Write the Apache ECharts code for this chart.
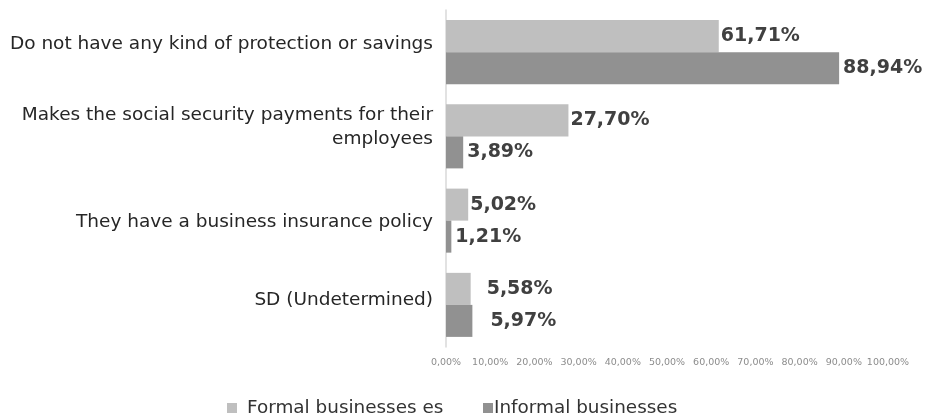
<!DOCTYPE html>
<html>
<head>
<meta charset="utf-8">
<script src="https://cdn.jsdelivr.net/npm/echarts@6/dist/echarts.min.js"></script>
<style>
  html, body { margin: 0; padding: 0; background: #ffffff; }
  #chart { width: 925px; height: 417px; }
</style>
</head>
<body>
<div id="chart"></div>
<script>
// Protection mechanisms by type of business (% of businesses)
const categories = [
  'Do not have any kind of protection or savings',
  'Makes the social security payments for their\nemployees',
  'They have a business insurance policy',
  'SD (Undetermined)'
];
const seriesNames = ['Formal businesses es', 'Informal businesses'];
const formalValues = [61.71, 27.70, 5.02, 5.58];
const informalValues = [88.94, 3.89, 1.21, 5.97];
const axisTicks = [0, 10, 20, 30, 40, 50, 60, 70, 80, 90, 100];

// extra horizontal push for the value labels of the last group
const labelPush = [0, 0, 0, 14];
// vertical nudge (px, positive = up) of each category name
const nameLift = [8, 9, -2, 5];

const FONT = 'DejaVu Sans';
const NAME_SIZE = 18.5;
const pct = v => v.toFixed(2).replace('.', ',') + '%';

function buildData(values) {
  return values.map((v, i) => ({
    value: v,
    label: { offset: [labelPush[i], 0] }
  }));
}

// one rich style per category, padded to carry its vertical nudge
const rich = {};
nameLift.forEach((lift, i) => {
  rich['c' + i] = {
    fontSize: NAME_SIZE,
    lineHeight: 24,
    color: '#262626',
    fontFamily: FONT,
    align: 'right',
    padding: lift >= 0 ? [0, 0, 2 * lift, 0] : [-2 * lift, 0, 0, 0]
  };
});

function nameFormatter(value, index) {
  return value
    .split('\n')
    .map(ln => '{c' + index + '|' + ln + '}')
    .join('\n');
}

const chart = echarts.init(document.getElementById('chart'), null, { renderer: 'canvas' });

chart.setOption({
  animation: false,
  backgroundColor: '#ffffff',
  textStyle: { fontFamily: FONT },
  grid: { left: 446, right: 37, top: 10, bottom: 70, containLabel: false },
  xAxis: {
    type: 'value',
    min: axisTicks[0],
    max: axisTicks[axisTicks.length - 1],
    interval: axisTicks[1] - axisTicks[0],
    axisLine: { show: false },
    axisTick: { show: false },
    splitLine: { show: false },
    axisLabel: {
      margin: 11,
      fontSize: 9.5,
      color: '#8c8c8c',
      fontFamily: FONT,
      formatter: v => pct(v)
    }
  },
  yAxis: {
    type: 'category',
    inverse: true,
    data: categories,
    axisLine: { show: true, lineStyle: { color: '#d9d9d9', width: 1.5 } },
    axisTick: { show: false },
    axisLabel: {
      margin: 13,
      fontSize: NAME_SIZE,
      lineHeight: 24,
      color: '#262626',
      fontFamily: FONT,
      align: 'right',
      formatter: nameFormatter,
      rich: rich
    }
  },
  legend: [
    {
      data: [seriesNames[0]],
      left: 222,
      top: 394,
      itemWidth: 10,
      itemHeight: 10,
      icon: 'rect',
      textStyle: { fontSize: 18.4, color: '#333333', fontFamily: FONT, padding: [0, 0, 0, 5] }
    },
    {
      data: [seriesNames[1]],
      left: 478,
      top: 394,
      itemWidth: 10,
      itemHeight: 10,
      icon: 'rect',
      textStyle: { fontSize: 18.4, color: '#333333', fontFamily: FONT, padding: [4, 0, 0, -4] }
    }
  ],
  series: [
    {
      name: seriesNames[0],
      type: 'bar',
      data: buildData(formalValues),
      barGap: '0%',
      barCategoryGap: '24%',
      itemStyle: { color: '#bfbfbf' },
      label: {
        show: true,
        position: 'right',
        distance: 2,
        fontSize: 19,
        fontWeight: 'bold',
        color: '#404040',
        fontFamily: FONT,
        formatter: p => pct(p.value)
      }
    },
    {
      name: seriesNames[1],
      type: 'bar',
      data: buildData(informalValues),
      barGap: '0%',
      barCategoryGap: '24%',
      itemStyle: { color: '#919191' },
      label: {
        show: true,
        position: 'right',
        distance: 4,
        fontSize: 19,
        fontWeight: 'bold',
        color: '#404040',
        fontFamily: FONT,
        formatter: p => pct(p.value)
      }
    }
  ]
});
</script>
</body>
</html>
